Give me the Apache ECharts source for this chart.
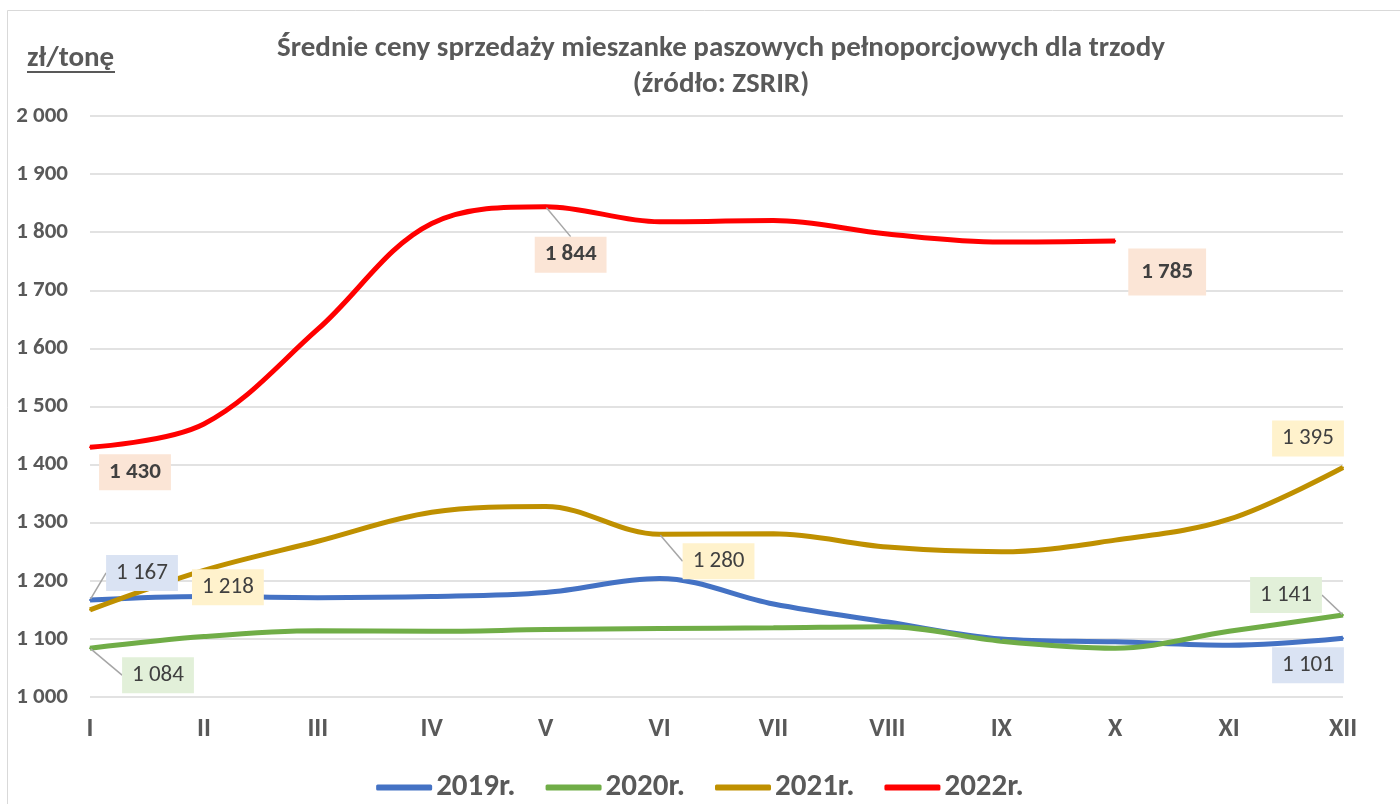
<!DOCTYPE html>
<html>
<head>
<meta charset="utf-8">
<script src="https://cdn.jsdelivr.net/npm/echarts@6/dist/echarts.min.js"></script>
<style>
  html, body { margin: 0; padding: 0; background: #fff; }
  #chart { width: 1400px; height: 804px; }
</style>
</head>
<body>
<div id="chart"></div>
<script>
const months = ['I', 'II', 'III', 'IV', 'V', 'VI', 'VII', 'VIII', 'IX', 'X', 'XI', 'XII'];
const y2019 = [1167, 1173, 1171, 1173, 1180, 1204, 1160, 1129, 1100, 1095, 1089, 1101];
const y2020 = [1084, 1104, 1114, 1113, 1116, 1118, 1119, 1121, 1096, 1084, 1113, 1141];
const y2021 = [1150, 1218, 1268, 1318, 1328, 1280, 1281, 1258, 1250, 1270, 1306, 1395];
const y2022 = [1430, 1470, 1633, 1815, 1844, 1818, 1820, 1797, 1783, 1785, null, null];

// labelled points: [dx, dy, leader line?] of the label box relative to the point
const labelOffsets = {
    '2019r.': { 0: [52, -27, true], 11: [-35, 27, false] },
    '2020r.': { 0: [68, 27, true], 11: [-57, -20, true] },
    '2021r.': { 1: [24, 17, false], 5: [59, 27, true], 11: [-35, -29, false] },
    '2022r.': { 0: [45, 25, false], 4: [25, 48, true], 9: [52, 31, false] }
};

const fmt = v => String(v).replace(/\B(?=(\d{3})+(?!\d))/g, ' ');
const font = 'Carlito, "Open Sans", "Liberation Sans", sans-serif';

function makeSeries(name, values, color, labelBg, bold) {
    const offs = labelOffsets[name];
    return {
        name: name,
        type: 'line',
        data: values.map((v, i) => {
            const o = offs[i];
            const item = { value: v, label: { show: !!o }, labelLine: { show: !!(o && o[2]) } };
            if (o && i === 9 && bold) item.label.padding = [12, 13, 12, 13];
            return item;
        }),
        smooth: 0.35,
        symbol: 'circle',
        symbolSize: 2,
        showSymbol: true,
        lineStyle: { color: color, width: 5 },
        itemStyle: { color: color },
        label: {
            position: 'inside',
            formatter: p => fmt(p.value),
            color: '#404040',
            fontFamily: font,
            fontSize: 23,
            fontWeight: bold ? 'bold' : 'normal',
            backgroundColor: labelBg,
            padding: [7, 10, 6, 10]
        },
        labelLine: {
            show: false,
            lineStyle: { color: '#a6a6a6', width: 1.5 }
        },
        labelLayout: p => {
            const o = offs[p.dataIndex];
            return o ? { dx: o[0], dy: o[1] } : {};
        },
        emphasis: { disabled: true }
    };
}

const chart = echarts.init(document.getElementById('chart'));
chart.setOption({
    animation: false,
    backgroundColor: '#fff',
    title: {
        text: 'Średnie ceny sprzedaży mieszanke paszowych pełnoporcjowych dla trzody\n(źródło: ZSRIR)',
        left: 716,
        textAlign: 'center',
        top: 26,
        textStyle: {
            fontFamily: font,
            fontSize: 29,
            fontWeight: 'bold',
            color: '#595959',
            lineHeight: 36
        }
    },
    legend: {
        top: 767,
        left: 'center',
        itemWidth: 56,
        itemHeight: 6,
        itemGap: 30,
        icon: 'roundRect',
        textStyle: {
            fontFamily: font,
            fontSize: 31,
            fontWeight: 'bold',
            color: '#595959',
            padding: [0, 0, 0, -1]
        },
        data: ['2019r.', '2020r.', '2021r.', '2022r.']
    },
    grid: { left: 90, right: 57, top: 116, bottom: 107 },
    xAxis: {
        type: 'category',
        data: months,
        boundaryGap: false,
        axisLine: { show: false },
        axisTick: { show: false },
        axisLabel: {
            margin: 19,
            fontFamily: font,
            fontSize: 26,
            fontWeight: 'bold',
            color: '#595959'
        }
    },
    yAxis: {
        type: 'value',
        min: 1000,
        max: 2000,
        interval: 100,
        axisLine: { show: false },
        axisTick: { show: false },
        splitLine: { lineStyle: { color: '#d9d9d9', width: 1.5 } },
        axisLabel: {
            margin: 22,
            fontFamily: font,
            fontSize: 23,
            fontWeight: 'bold',
            color: '#595959',
            formatter: v => fmt(v)
        }
    },
    graphic: [
        {
            type: 'rect',
            shape: { x: 7.5, y: 10.5, width: 1400, height: 800 },
            style: { fill: 'none', stroke: '#d9d9d9', lineWidth: 1 },
            silent: true
        },
        {
            type: 'text',
            left: 27,
            top: 44,
            style: {
                text: 'zł/tonę',
                fontFamily: font,
                fontSize: 29,
                fontWeight: 'bold',
                fill: '#595959'
            }
        },
        {
            type: 'line',
            shape: { x1: 27, y1: 72, x2: 115, y2: 72 },
            style: { stroke: '#595959', lineWidth: 2 }
        }
    ],
    series: [
        makeSeries('2019r.', y2019, '#4472c4', '#dae3f3', false),
        makeSeries('2020r.', y2020, '#70ad47', '#e2f0d9', false),
        makeSeries('2021r.', y2021, '#bf9000', '#fff2cc', false),
        makeSeries('2022r.', y2022, '#ff0000', '#fbe5d6', true)
    ]
});
</script>
</body>
</html>
